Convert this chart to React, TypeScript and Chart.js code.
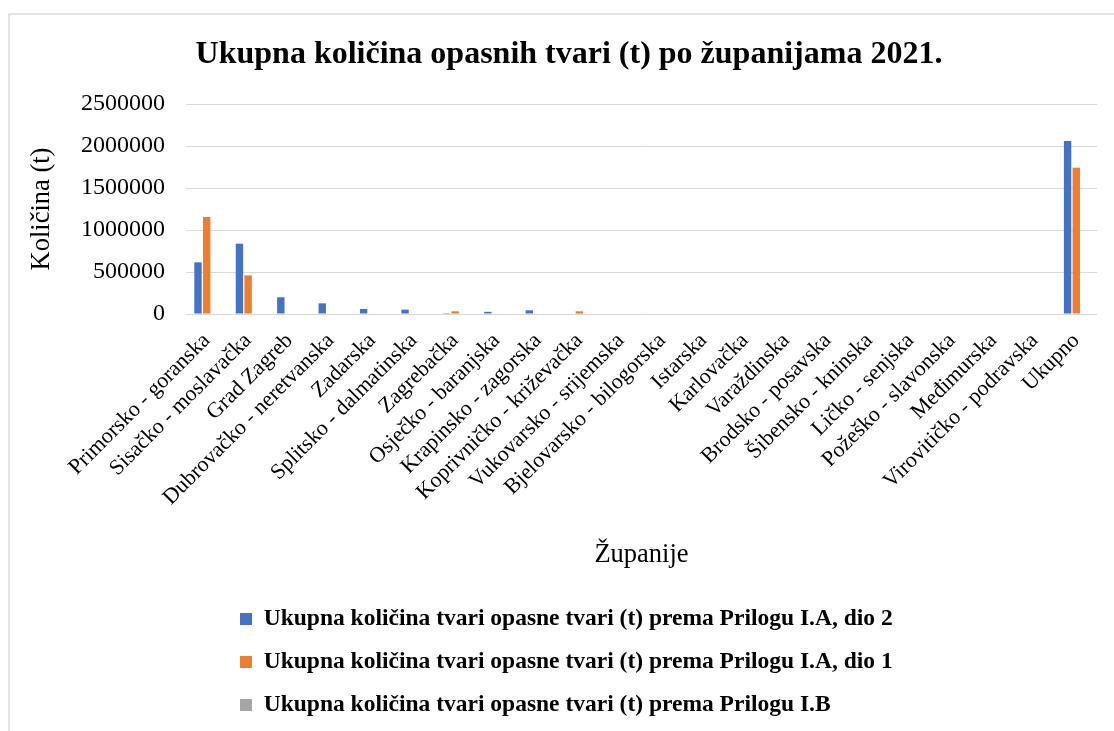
import React, { useEffect, useRef } from "react";
import { Chart, registerables } from "chart.js";

Chart.register(...registerables);

const FONT = "'Liberation Serif', 'Times New Roman', Times, serif";

const chartTitle = "Ukupna količina opasnih tvari (t) po županijama 2021.";
const xAxisTitle = "Županije";
const yAxisTitle = "Količina (t)";

const categories = [
  "Primorsko - goranska",
  "Sisačko - moslavačka",
  "Grad Zagreb",
  "Dubrovačko - neretvanska",
  "Zadarska",
  "Splitsko - dalmatinska",
  "Zagrebačka",
  "Osječko - baranjska",
  "Krapinsko - zagorska",
  "Koprivničko - križevačka",
  "Vukovarsko - srijemska",
  "Bjelovarsko - bilogorska",
  "Istarska",
  "Karlovačka",
  "Varaždinska",
  "Brodsko - posavska",
  "Šibensko - kninska",
  "Ličko - senjska",
  "Požeško - slavonska",
  "Međimurska",
  "Virovitičko - podravska",
  "Ukupno",
];

const seriesNames = [
  "Ukupna količina tvari opasne tvari (t) prema Prilogu I.A, dio 2",
  "Ukupna količina tvari opasne tvari (t) prema Prilogu I.A, dio 1",
  "Ukupna količina tvari opasne tvari (t) prema Prilogu I.B",
];

const seriesColors = ["#4472C4", "#ED7D31", "#A5A5A5"];

const prilogIADio2 = [
  615000, 837000, 199000, 127000, 60000, 52000, 10000, 26000, 44000, 0, 0,
  0, 0, 0, 0, 0, 0, 0, 0, 0, 0, 2060000,
];

const prilogIADio1 = [
  1155000, 460000, 0, 0, 0, 0, 32000, 5000, 0, 32000, 0, 0, 0, 0, 0, 0, 0,
  0, 0, 0, 0, 1742000,
];

const prilogIB = [
  0, 0, 0, 0, 0, 0, 0, 0, 0, 0, 0, 0, 0, 0, 0, 0, 0, 0, 0, 0, 0, 0,
];

const yMin = 0;
const yMax = 2500000;
const yStep = 500000;

export default function App() {
  const canvasRef = useRef<HTMLCanvasElement | null>(null);

  useEffect(() => {
    const canvas = canvasRef.current;
    if (!canvas) return;

    const legendShift = {
      id: "legendShift",
      afterLayout(chart: any) {
        const lg = chart.legend;
        if (lg) {
          lg.left = 220.5;
        }
      },
    };

    const chart = new Chart(canvas, {
      type: "bar",
      data: {
        labels: categories,
        datasets: [prilogIADio2, prilogIADio1, prilogIB].map((d, i) => ({
          label: seriesNames[i],
          data: d,
          backgroundColor: seriesColors[i],
          borderWidth: 0,
          categoryPercentage: 0.63,
          barPercentage: 0.85,
        })),
      },
      options: {
        responsive: false,
        animation: false,
        layout: { padding: { left: 41, right: 17, top: 0, bottom: 4.25 } },
        plugins: {
          title: {
            display: true,
            text: chartTitle,
            color: "#000",
            font: { family: FONT, size: 32, weight: "bold", lineHeight: 1.2 },
            padding: { top: 36, bottom: 29.6 },
          },
          legend: {
            position: "bottom",
            align: "start",
            labels: {
              color: "#000",
              font: { family: FONT, size: 23.5, weight: "bold" },
              boxWidth: 12,
              boxHeight: 12,
              padding: 19.5,
            },
          },
          tooltip: { enabled: false },
        },
        scales: {
          x: {
            grid: { display: false },
            border: { display: false },
            ticks: {
              color: "#000",
              font: { family: FONT, size: 22 },
              minRotation: 45,
              maxRotation: 45,
              autoSkip: false,
              padding: 6,
            },
            title: {
              display: true,
              text: xAxisTitle,
              color: "#000",
              font: { family: FONT, size: 26.5, lineHeight: 1.2 },
              padding: { top: 0, bottom: 16.6 },
            },
            afterFit(s: any) {
              s.height = 273.75;
              s.paddingLeft = 0;
              s.paddingRight = 0;
            },
          },
          y: {
            min: yMin,
            max: yMax,
            grid: { color: "#d9d9d9", lineWidth: 1, drawTicks: false },
            border: { display: false },
            ticks: {
              stepSize: yStep,
              color: "#000",
              font: { family: FONT, size: 24 },
              padding: 21,
              callback: (v: any) => String(v),
            },
            title: {
              display: true,
              text: yAxisTitle,
              color: "#000",
              font: { family: FONT, size: 26.5, lineHeight: 1.2 },
              padding: { top: -14.9, bottom: 0 },
            },
            afterFit(s: any) {
              s.width = 145;
            },
          },
        },
      },
      plugins: [legendShift],
    });

    return () => {
      chart.destroy();
    };
  }, []);

  return (
    <div
      style={{
        position: "fixed",
        left: 0,
        top: 0,
        width: 1114,
        height: 731,
        overflow: "hidden",
        background: "#fff",
      }}
    >
      <div
        style={{
          position: "absolute",
          left: 8,
          top: 13,
          width: 1200,
          height: 800,
          border: "2px solid #e3e3e3",
        }}
      />
      <canvas
        ref={canvasRef}
        width={1114}
        height={731}
        style={{ position: "absolute", left: 0, top: 0, width: 1114, height: 731 }}
      />
    </div>
  );
}
